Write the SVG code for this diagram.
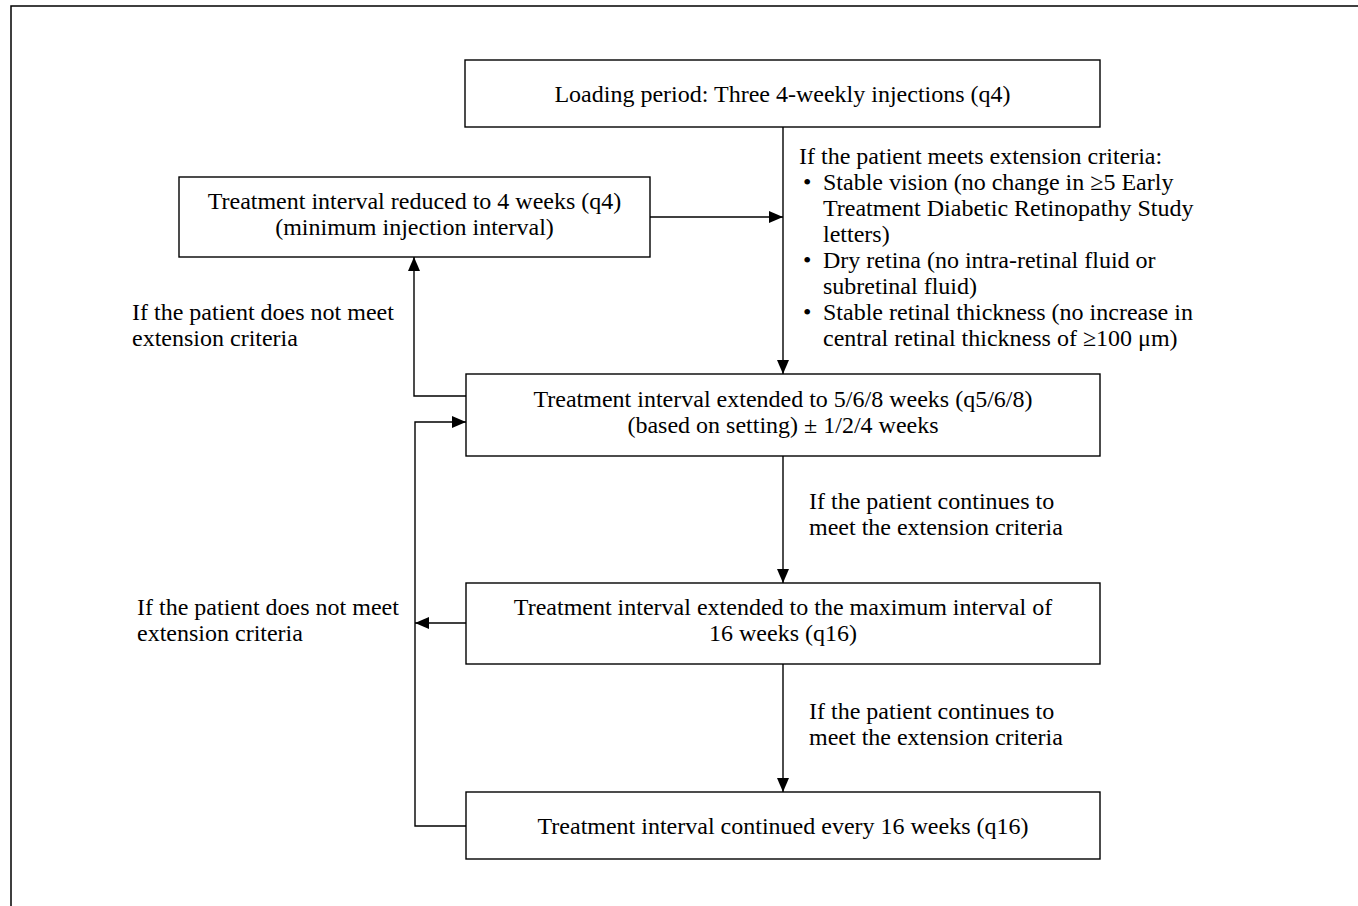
<svg xmlns="http://www.w3.org/2000/svg" width="1358" height="906" viewBox="0 0 1358 906">
<defs>
<marker id="ah" viewBox="0 0 14 12" refX="14" refY="6" markerWidth="14" markerHeight="12" markerUnits="userSpaceOnUse" orient="auto">
<path d="M0,0 L14,6 L0,12 Z" fill="#000"/>
</marker>
<style>
text{font-family:"Liberation Serif","Times New Roman",serif;font-size:24px;fill:#000}
.box{fill:#fff;stroke:#000;stroke-width:1.4}
.c{text-anchor:middle}
.ar{fill:none;stroke:#000;stroke-width:1.4;marker-end:url(#ah)}
</style>
</defs>
<rect width="1358" height="906" fill="#fff"/>
<path d="M11,906 V6 H1358" fill="none" stroke="#000" stroke-width="1.5"/>

<g id="connectors">
<path class="ar" d="M783,127 V374"/>
<path class="ar" d="M650,217 H783"/>
<path class="ar" d="M466,396 H414 V257"/>
<path class="ar" d="M783,456 V583"/>
<path class="ar" d="M783,664 V792"/>
<path class="ar" d="M466,623 H415"/>
<path class="ar" d="M466,826 H415 V422 H466"/>
</g>

<g id="n-loading">
<rect class="box" x="465" y="60" width="635" height="67"/>
<text class="c" x="782.5" y="102">Loading period: Three 4-weekly injections (q4)</text>
</g>

<g id="n-reduced">
<rect class="box" x="179" y="177" width="471" height="80"/>
<text class="c" x="414.5" y="209">Treatment interval reduced to 4 weeks (q4)</text>
<text class="c" x="414.5" y="235">(minimum injection interval)</text>
</g>

<g id="l-criteria">
<text x="799" y="164">If the patient meets extension criteria:</text>
<text x="803" y="190">•</text><text x="823" y="190">Stable vision (no change in ≥5 Early</text>
<text x="823" y="216">Treatment Diabetic Retinopathy Study</text>
<text x="823" y="242">letters)</text>
<text x="803" y="268">•</text><text x="823" y="268">Dry retina (no intra-retinal fluid or</text>
<text x="823" y="294">subretinal fluid)</text>
<text x="803" y="320">•</text><text x="823" y="320">Stable retinal thickness (no increase in</text>
<text x="823" y="346">central retinal thickness of ≥100 μm)</text>
</g>

<g id="l-notmeet1">
<text x="132" y="320">If the patient does not meet</text>
<text x="132" y="346">extension criteria</text>
</g>

<g id="n-extended">
<rect class="box" x="466" y="374" width="634" height="82"/>
<text class="c" x="783" y="407">Treatment interval extended to 5/6/8 weeks (q5/6/8)</text>
<text class="c" x="783" y="433">(based on setting) ± 1/2/4 weeks</text>
</g>

<g id="l-continue1">
<text x="809" y="509">If the patient continues to</text>
<text x="809" y="535">meet the extension criteria</text>
</g>

<g id="n-max">
<rect class="box" x="466" y="583" width="634" height="81"/>
<text class="c" x="783" y="615">Treatment interval extended to the maximum interval of</text>
<text class="c" x="783" y="641">16 weeks (q16)</text>
</g>

<g id="l-notmeet2">
<text x="137" y="615">If the patient does not meet</text>
<text x="137" y="641">extension criteria</text>
</g>

<g id="l-continue2">
<text x="809" y="719">If the patient continues to</text>
<text x="809" y="745">meet the extension criteria</text>
</g>

<g id="n-continued">
<rect class="box" x="466" y="792" width="634" height="67"/>
<text class="c" x="783" y="834">Treatment interval continued every 16 weeks (q16)</text>
</g>
</svg>
